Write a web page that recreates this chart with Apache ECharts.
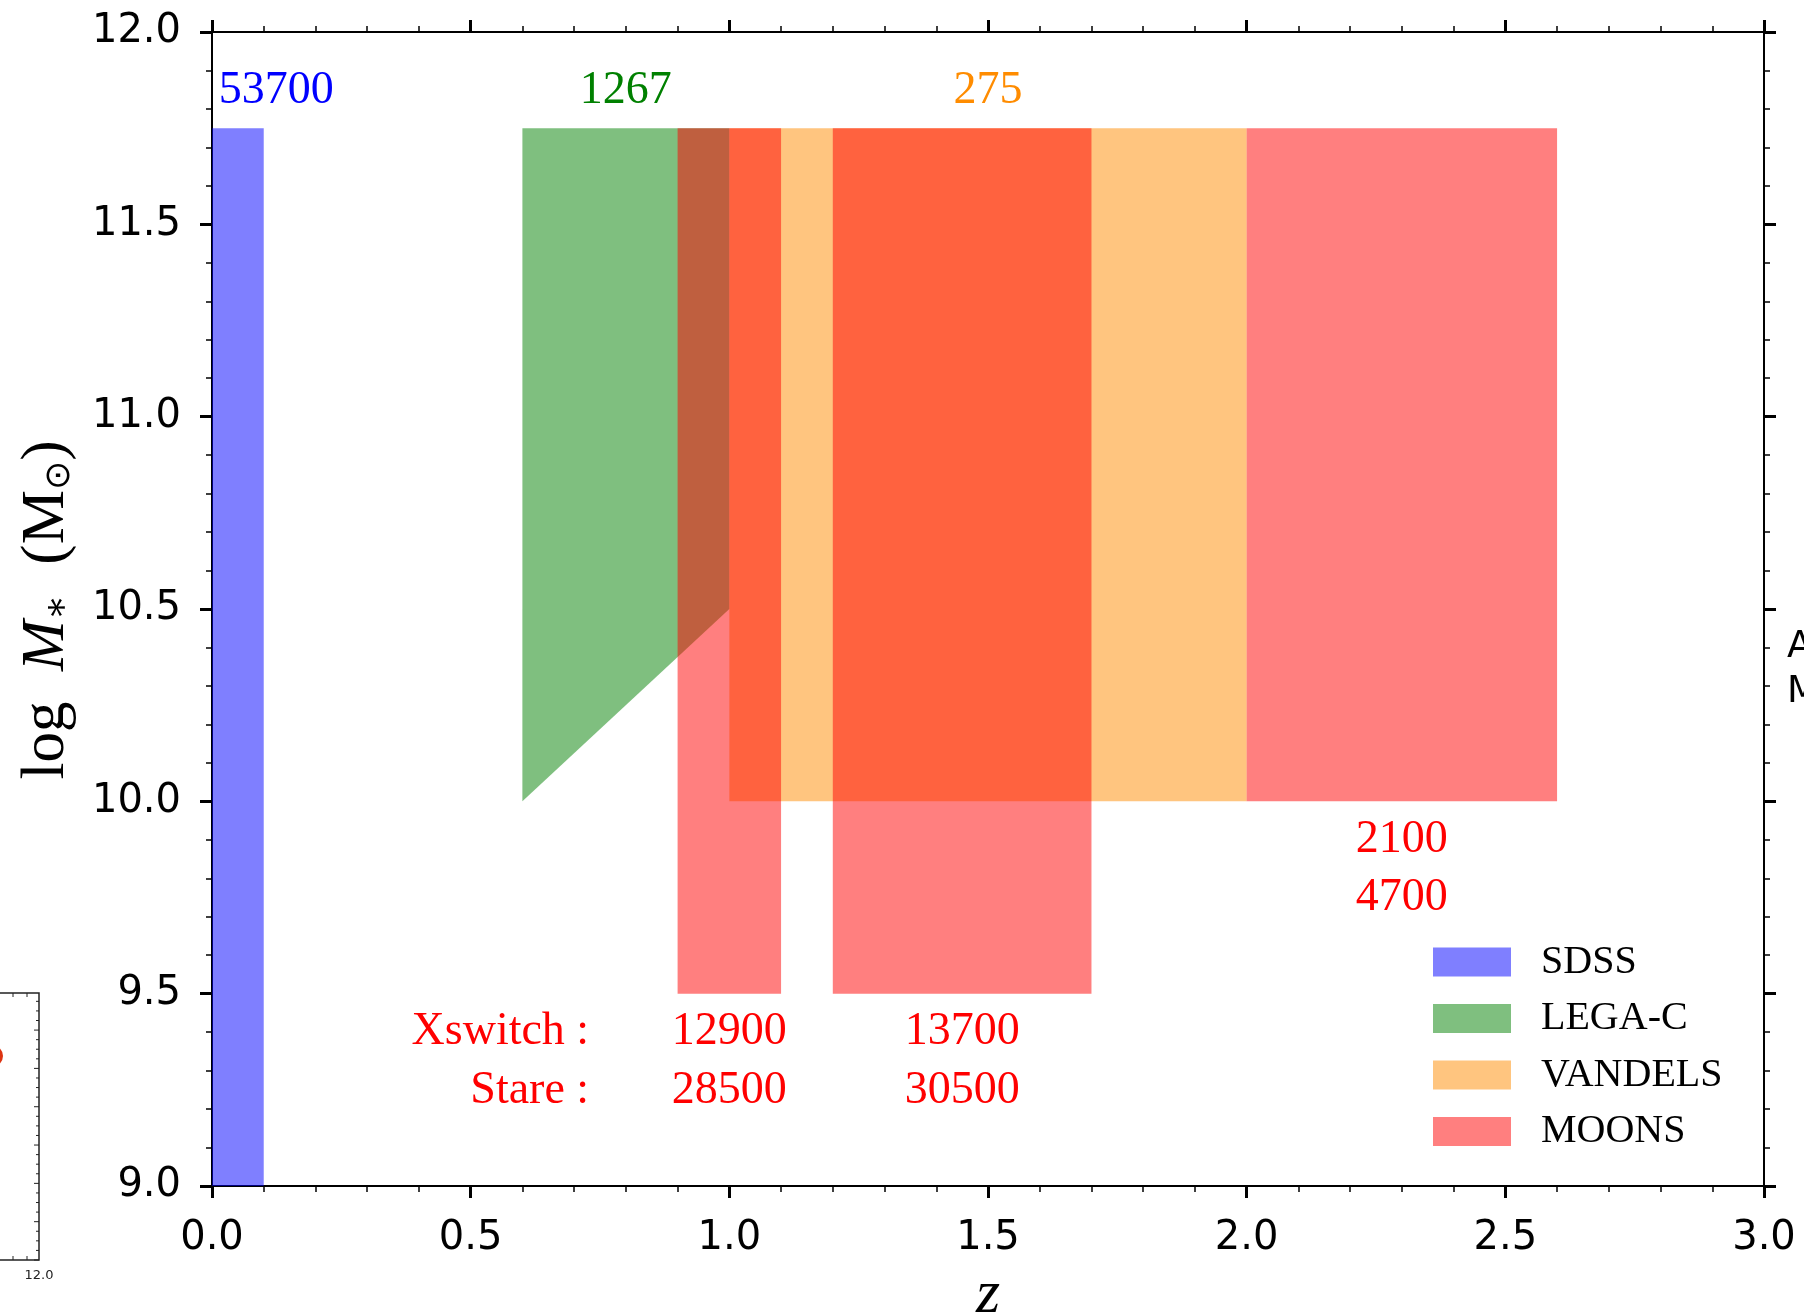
<!DOCTYPE html>
<html>
<head>
<meta charset="utf-8">
<script src="https://cdn.jsdelivr.net/npm/echarts@6/dist/echarts.min.js"></script>
<style>
  html, body { margin: 0; padding: 0; background: #fff; }
  #chart { width: 1804px; height: 1314px; }
</style>
</head>
<body>
<div id="chart"></div>
<script>
// Spectroscopic survey coverage in redshift vs. stellar mass

const surveys = ['SDSS', 'LEGA-C', 'VANDELS', 'MOONS'];
const surveyColors = ['rgba(0,0,255,0.5)', 'rgba(0,128,0,0.5)', 'rgba(255,140,0,0.5)', 'rgba(255,0,0,0.5)'];

// axis ticks
const zTicks = [0.0, 0.5, 1.0, 1.5, 2.0, 2.5, 3.0];
const logMTicks = [9.0, 9.5, 10.0, 10.5, 11.0, 11.5, 12.0];

// coverage of each survey (z, log M*)
const sdssZ = [0.0, 0.1];
const sdssLogM = [9.0, 11.75];
const legacZ = [0.6, 0.6, 1.0, 1.0];
const legacLogM = [10.0, 11.75, 11.75, 10.5];
const vandelsZ = [1.0, 2.0];
const vandelsLogM = [10.0, 11.75];
const moonsZMin = [0.9, 1.2, 2.0];
const moonsZMax = [1.1, 1.7, 2.6];
const moonsLogMMin = [9.5, 9.5, 10.0];
const moonsLogMMax = [11.75, 11.75, 11.75];

// sample sizes
const sampleSizes = ['53700', '1267', '275'];
const sampleSizeZ = [0.124, 0.8, 1.5];
const sampleSizeColors = ['#0000ff', '#008000', '#ff8c00'];
const moonsXswitch = ['12900', '13700', '2100'];
const moonsStare = ['28500', '30500', '4700'];
const modeNames = ['Xswitch :', 'Stare :'];

const SERIF = '"Liberation Serif", "DejaVu Serif", serif';
const SANS = '"DejaVu Sans", sans-serif';

function box(z0, z1, m0, m1) {
  return [[z0, m0], [z0, m1], [z1, m1], [z1, m0]];
}

const regions = [
  [box(sdssZ[0], sdssZ[1], sdssLogM[0], sdssLogM[1])],
  [legacZ.map((z, i) => [z, legacLogM[i]])],
  [box(vandelsZ[0], vandelsZ[1], vandelsLogM[0], vandelsLogM[1])],
  moonsZMin.map((z, i) => box(z, moonsZMax[i], moonsLogMMin[i], moonsLogMMax[i]))
];

// text annotations placed in data space
const ROW1 = 0.10, ROW2 = 0.252;
const annotations = [];
sampleSizes.forEach((t, i) => annotations.push({
  text: t, z: sampleSizeZ[i], m: 11.848, color: sampleSizeColors[i], align: 'center'
}));
moonsXswitch.forEach((t, i) => {
  const zc = (moonsZMin[i] + moonsZMax[i]) / 2;
  annotations.push({ text: t, z: zc, m: moonsLogMMin[i] - ROW1, color: '#ff0000', align: 'center' });
  annotations.push({ text: moonsStare[i], z: zc, m: moonsLogMMin[i] - ROW2, color: '#ff0000', align: 'center' });
});
annotations.push({ text: modeNames[0], z: 0.729, m: moonsLogMMin[0] - ROW1, color: '#ff0000', align: 'right' });
annotations.push({ text: modeNames[1], z: 0.729, m: moonsLogMMin[0] - ROW2, color: '#ff0000', align: 'right' });

function valueAxis(ticks, position, showLabels, isX) {
  return {
    type: 'value',
    position: position,
    min: ticks[0],
    max: ticks[ticks.length - 1],
    interval: ticks[1] - ticks[0],
    axisLine: { show: true, onZero: false, lineStyle: { color: '#000', width: 2 } },
    axisTick: { show: true, inside: false, length: 12, lineStyle: { color: '#000', width: 3 } },
    minorTick: { show: true, splitNumber: 5, length: 6, lineStyle: { color: '#000', width: 1.5 } },
    splitLine: { show: false },
    minorSplitLine: { show: false },
    axisLabel: {
      show: showLabels,
      margin: isX ? 33 : 31,
      color: '#000',
      fontSize: 40,
      fontFamily: SANS,
      formatter: v => v.toFixed(1)
    }
  };
}

const areaSeries = surveys.map((name, k) => ({
  type: 'custom',
  name: name,
  coordinateSystem: 'cartesian2d',
  xAxisIndex: 0,
  yAxisIndex: 0,
  silent: true,
  z: 2 + k,
  itemStyle: { color: surveyColors[k] },
  data: regions[k].map(poly => poly[0]),
  renderItem: function (params, api) {
    const poly = regions[k][params.dataIndex];
    return {
      type: 'polygon',
      shape: { points: poly.map(p => api.coord(p)) },
      style: { fill: surveyColors[k], stroke: null }
    };
  }
}));

const labelSeries = {
  type: 'custom',
  name: 'sample sizes',
  coordinateSystem: 'cartesian2d',
  silent: true,
  z: 20,
  data: annotations.map(a => [a.z, a.m]),
  renderItem: function (params, api) {
    const a = annotations[params.dataIndex];
    const p = api.coord([a.z, a.m]);
    return {
      type: 'text',
      x: p[0],
      y: p[1],
      style: {
        text: a.text,
        fill: a.color,
        fontSize: 46,
        fontFamily: SERIF,
        align: a.align,
        verticalAlign: 'middle'
      }
    };
  }
};

// edge of the neighbouring panel on the left
const sideGraphics = [];
sideGraphics.push({ type: 'polyline', shape: { points: [[0, 993], [39, 993], [39, 1260], [0, 1260]] },
  style: { stroke: '#222', lineWidth: 1.5, fill: null } });
for (let i = 0; i <= 28; i++) {
  const y = 1260 - i * 9.58;
  if (y < 995) break;
  const major = i % 4 === 0;
  sideGraphics.push({ type: 'line', shape: { x1: 39, y1: y, x2: 39 - (major ? 5 : 3), y2: y },
    style: { stroke: '#222', lineWidth: 1 } });
}
[13, 27].forEach(x => {
  sideGraphics.push({ type: 'line', shape: { x1: x, y1: 993, x2: x, y2: 997 }, style: { stroke: '#222', lineWidth: 1 } });
  sideGraphics.push({ type: 'line', shape: { x1: x, y1: 1260, x2: x, y2: 1256 }, style: { stroke: '#222', lineWidth: 1 } });
});
sideGraphics.push({ type: 'circle', shape: { cx: -8, cy: 1056, r: 11 }, style: { fill: '#dd3311' } });
sideGraphics.push({ type: 'text', x: 39, y: 1276, style: { text: '12.0', fontSize: 13, fontFamily: SANS, fill: '#222', align: 'center', verticalAlign: 'middle' } });
// edge of the neighbouring text on the right
sideGraphics.push({ type: 'text', x: 1787, y: 647, style: { text: 'A', fontSize: 37, fontFamily: SANS, fill: '#000', align: 'left', verticalAlign: 'middle' } });
sideGraphics.push({ type: 'text', x: 1787, y: 692, style: { text: 'M', fontSize: 37, fontFamily: SANS, fill: '#000', align: 'left', verticalAlign: 'middle' } });

const axisTitles = [
  {
    type: 'text', x: 988, y: 1296,
    style: { text: 'z', fontSize: 62, fontStyle: 'italic', fontFamily: SERIF, fill: '#000', align: 'center', verticalAlign: 'middle' }
  },
  {
    type: 'text', x: 46, y: 610, rotation: Math.PI / 2,
    style: {
      text: '{n|log  }{i|M}{s|∗}{n|  (M}{o|⊙}{n|)}',
      align: 'center',
      verticalAlign: 'middle',
      fill: '#000',
      rich: {
        n: { fontSize: 61, fontFamily: SERIF, fill: '#000', lineHeight: 62, verticalAlign: 'bottom' },
        i: { fontSize: 61, fontFamily: SERIF, fontStyle: 'italic', fill: '#000', lineHeight: 62, verticalAlign: 'bottom' },
        s: { fontSize: 37, fontFamily: '"DejaVu Serif", serif', fill: '#000', lineHeight: 24, verticalAlign: 'bottom' },
        o: { fontSize: 35, fontFamily: '"DejaVu Sans", sans-serif', fill: '#000', lineHeight: 16, verticalAlign: 'bottom' }
      }
    }
  }
];

const option = {
  animation: false,
  backgroundColor: '#ffffff',
  grid: { left: 212, right: 40, top: 32, bottom: 128, containLabel: false, outerBoundsMode: 'none' },
  xAxis: [valueAxis(zTicks, 'bottom', true, true), valueAxis(zTicks, 'top', false, true)],
  yAxis: [valueAxis(logMTicks, 'left', true, false), valueAxis(logMTicks, 'right', false, false)],
  legend: {
    orient: 'vertical',
    left: 1428,
    top: 937,
    itemWidth: 78,
    itemHeight: 29,
    itemGap: 16.5,
    icon: 'rect',
    selectedMode: false,
    data: surveys.map((n, i) => ({ name: n, itemStyle: { color: surveyColors[i], borderWidth: 0 } })),
    textStyle: { fontFamily: SERIF, fontSize: 40, color: '#000', padding: [0, 0, 0, 25] }
  },
  series: areaSeries.concat([labelSeries]),
  graphic: axisTitles.concat(sideGraphics)
};

const chart = echarts.init(document.getElementById('chart'), null, { renderer: 'canvas' });
chart.setOption(option);
</script>
</body>
</html>
